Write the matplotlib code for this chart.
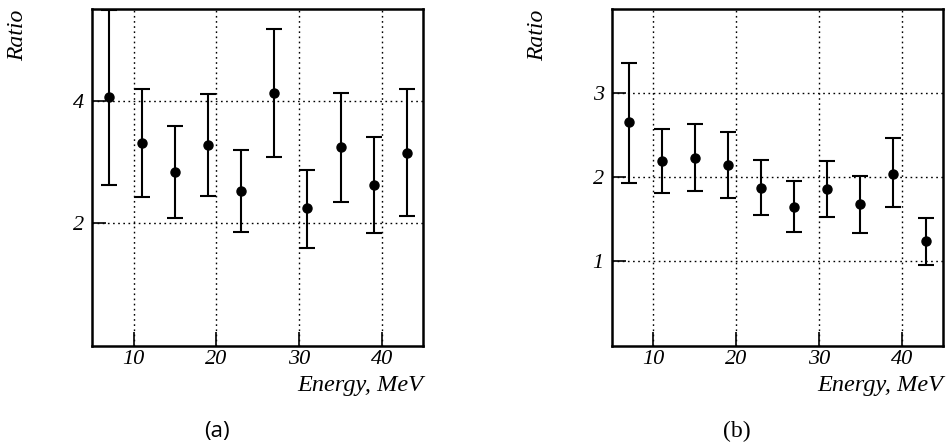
import matplotlib
matplotlib.use("Agg")
import matplotlib.pyplot as plt
import numpy as np

energy = [7, 11, 15, 19, 23, 27, 31, 35, 39, 43]

ratio_a = [4.05, 3.31, 2.84, 3.27, 2.52, 4.12, 2.25, 3.24, 2.62, 3.15]
upper_a = [5.48, 4.19, 3.59, 4.11, 3.19, 5.17, 2.87, 4.13, 3.40, 4.18]
lower_a = [2.62, 2.43, 2.08, 2.44, 1.85, 3.08, 1.60, 2.35, 1.84, 2.12]

ratio_b = [2.65, 2.19, 2.23, 2.14, 1.87, 1.65, 1.86, 1.68, 2.04, 1.24]
upper_b = [3.36, 2.57, 2.63, 2.53, 2.20, 1.95, 2.19, 2.01, 2.47, 1.51]
lower_b = [1.93, 1.81, 1.83, 1.75, 1.55, 1.35, 1.53, 1.34, 1.64, 0.96]

xticks = [10, 20, 30, 40]
yticks_a = [2, 4]
yticks_b = [1, 2, 3]

serif = ["Liberation Serif", "DejaVu Serif"]

fig = plt.figure(figsize=(9.5, 4.47), dpi=100)
axA = fig.add_axes([0.0972, 0.2266, 0.3484, 0.7542])
axB = fig.add_axes([0.6442, 0.2266, 0.3484, 0.7542])


def draw(ax, y, up, lo, ylim, yticks, label_x):
    y = np.array(y)
    yerr = [y - np.array(lo), np.array(up) - y]
    ax.errorbar(energy, y, yerr=yerr, fmt='o', color='black', ms=6.5,
                elinewidth=1.5, capsize=6, capthick=1.5, zorder=3)
    ax.set_xlim(5, 45)
    ax.set_ylim(*ylim)
    ax.set_xticks(xticks)
    ax.set_yticks(yticks)
    ax.set_xticklabels([str(t) for t in xticks], family=serif, style='italic', fontsize=16)
    ax.set_yticklabels([str(t) for t in yticks], family=serif, style='italic', fontsize=16)
    ax.tick_params(axis='x', direction='in', length=10, width=1.2, pad=3, top=False)
    ax.tick_params(axis='y', direction='in', length=10, width=1.2, pad=6, right=False)
    ax.grid(True, linestyle=(0, (1.2, 2.5)), color='black', linewidth=1.0)
    ax.set_axisbelow(True)
    for s in ax.spines.values():
        s.set_linewidth(1.8)
    ax.text(1.0, -0.118, "Energy, MeV", transform=ax.transAxes, ha='right', va='center',
            family=serif, style='italic', fontsize=17.5)
    fig.text(label_x, 1 - 35 / 447, "Ratio", rotation=90, ha='center', va='center',
             family=serif, style='italic', fontsize=17)


draw(axA, ratio_a, upper_a, lower_a, (0, 5.5), yticks_a, 18 / 950)
draw(axB, ratio_b, upper_b, lower_b, (0, 4.0), yticks_b, 538 / 950)

fig.text(217 / 950, 1 - 431 / 447, "(a)", ha='center', va='center',
         family=["Open Sans", "DejaVu Sans"], fontsize=16)
fig.text(737 / 950, 1 - 431 / 447, "(b)", ha='center', va='center',
         family=serif, fontsize=17)

fig.savefig("out.png", dpi=100)
